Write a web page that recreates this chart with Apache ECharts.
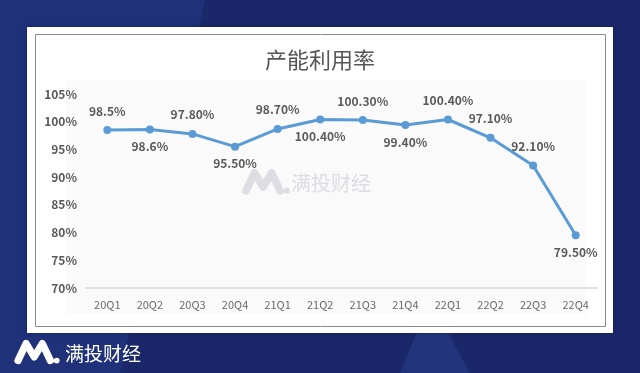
<!DOCTYPE html>
<html><head><meta charset="utf-8">
<script src="https://cdn.jsdelivr.net/npm/echarts@6/dist/echarts.min.js"></script>
<style>html,body{margin:0;padding:0;background:#1a286a}#c{width:640px;height:373px}</style>
</head><body><div id="c"></div>
<script>
const categories = ['20Q1','20Q2','20Q3','20Q4','21Q1','21Q2','21Q3','21Q4','22Q1','22Q2','22Q3','22Q4'];
const values = [98.5, 98.6, 97.8, 95.5, 98.7, 100.4, 100.3, 99.4, 100.4, 97.1, 92.1, 79.5];
const labelTexts = ['98.5%','98.6%','97.80%','95.50%','98.70%','100.40%','100.30%','99.40%','100.40%','97.10%','92.10%','79.50%'];
const yTicks = [70, 75, 80, 85, 90, 95, 100, 105];
const titleText = '产能利用率';
const brandText = '满投财经';

const labelPos = ['top','bottom','top','bottom','top','bottom','top','bottom','top','top','top','bottom'];

const chart = echarts.init(document.getElementById('c'));
const font = '"Noto Sans CJK SC","Noto Sans",sans-serif';

function logo(x, y, s, color) {
  return [
    {type:'polyline', shape:{points:[[x,y+24*s],[x+9*s,y+5*s],[x+18*s,y+20*s],[x+27*s,y+5*s],[x+36*s,y+24*s]]},
     style:{stroke:color, lineWidth:8*s, fill:null, lineJoin:'round', lineCap:'round'}},
    {type:'circle', shape:{cx:x+43*s, cy:y+24*s, r:3.2*s}, style:{fill:color}}
  ];
}

chart.setOption({
  animation:false,
  backgroundColor:'#1a286a',
  graphic:[
    {type:'polygon', z:-10, shape:{points:[[0,0],[205,0],[120,373],[0,373]]}, style:{fill:'#1f3179'}},
    {type:'polygon', z:-10, shape:{points:[[400,373],[430,300],[470,373]]}, style:{fill:'#22357c'}},
    {type:'rect', z:-5, shape:{x:27,y:27,width:586,height:306}, style:{fill:'#ffffff', shadowColor:'rgba(0,0,0,0.3)', shadowBlur:4}},
    {type:'rect', z:-4, shape:{x:35.5,y:34.5,width:570,height:292}, style:{fill:'#ffffff', stroke:'#8a8a8a', lineWidth:1}},
    {type:'rect', z:-3, shape:{x:66,y:80,width:520,height:235}, style:{fill:'#fafafb'}},
    {type:'text', z:10, style:{text:titleText, x:320, y:60, textAlign:'center', textVerticalAlign:'middle', font:'22px '+font, fill:'#555555'}},
    ...logo(246, 168, 0.95, '#dddde3').map(e=>Object.assign(e,{z:-2})),
    {type:'text', z:-2, style:{text:brandText, x:291, y:183, textVerticalAlign:'middle', font:'20px '+font, fill:'#dcdce2'}},
    ...logo(18, 339, 0.9, '#ffffff'),
    {type:'text', style:{text:brandText, x:65, y:354, textVerticalAlign:'middle', font:'19px '+font, fill:'#ffffff'}}
  ],
  grid:{left:86, right:43, top:94, bottom:85},
  xAxis:{type:'category', data:categories, boundaryGap:true,
    axisLine:{lineStyle:{color:'#d9d9d9', width:1.5}}, axisTick:{show:false},
    axisLabel:{color:'#6a6a6a', fontSize:11, margin:11, fontFamily:font}},
  yAxis:{type:'value', min:yTicks[0], max:yTicks[yTicks.length-1], interval:5,
    axisLine:{show:false}, axisTick:{show:false}, splitLine:{show:false},
    axisLabel:{color:'#595959', fontSize:12, fontWeight:'bold', margin:9, fontFamily:font, formatter:v=>v+'%'}},
  series:[{
    type:'line', smooth:false,
    data: values.map((v,i)=>({value:v, label:{position:labelPos[i], formatter:labelTexts[i], distance: labelPos[i]==='top'?9:7}})),
    lineStyle:{color:'#5b9bd5', width:3},
    itemStyle:{color:'#5b9bd5'},
    symbol:'circle', symbolSize:8,
    label:{show:true, color:'#595959', fontSize:12, fontWeight:'bold', fontFamily:font}
  }]
});
</script></body></html>
